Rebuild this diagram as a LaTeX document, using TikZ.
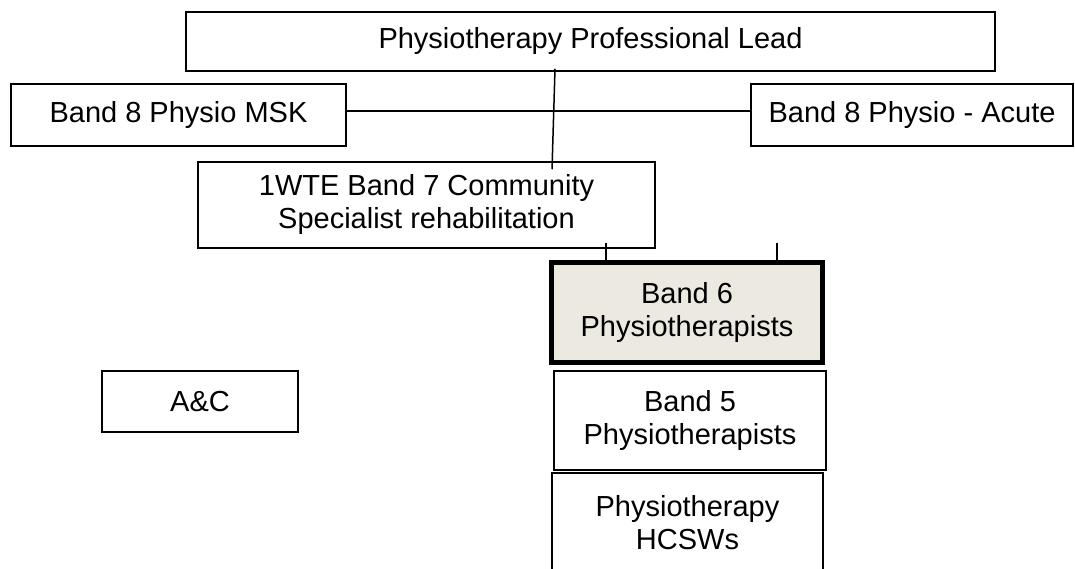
\documentclass[tikz,border=0pt]{standalone}
\usepackage{fontspec}
\setmainfont{Liberation Sans}
\definecolor{bandsix}{RGB}{236,233,224}
\begin{document}
\begin{tikzpicture}[x=1pt, y=-1pt,
    post/.style={draw, line width=1.5pt, inner sep=0pt, align=center,
      font=\fontsize{29}{33}\selectfont},
    link/.style={line width=1.5pt}]
    \useasboundingbox (0,0) rectangle (1075,569);
    \clip (0,0) rectangle (1075,569);
    \node [post, minimum width=809pt, minimum height=59pt] (lead) at (590.5,41.5) {Physiotherapy Professional Lead};
    \node [post, minimum width=335pt, minimum height=62pt] (msk) at (178.5,115) {Band 8 Physio MSK};
    \node [post, minimum width=322pt, minimum height=62pt] (acute) at (912,115) {Band 8 Physio - Acute};
    \node [post, minimum width=457pt, minimum height=86pt] (bandseven) at (426.5,205) {1WTE Band 7 Community\\Specialist rehabilitation};
    \node [post, line width=5pt, fill=bandsix, minimum width=271pt, minimum height=100pt] (bandsix) at (687,312.5) {Band 6\\Physiotherapists};
    \node [post, minimum width=196pt, minimum height=61pt] (ac) at (200,401.5) {A\&C};
    \node [post, minimum width=272pt, minimum height=99pt] (bandfive) at (690,420.5) {Band 5\\Physiotherapists};
    \node [post, minimum width=271pt, minimum height=99pt] (hcsw) at (687.5,522.5) {Physiotherapy\\HCSWs};
    \coordinate (tickA) at (606,243);
    \coordinate (tickB) at (777,243);
    \draw [link] ([yshift=4pt]msk.east) -- ([yshift=4pt]acute.west);
    \draw [link] ([xshift=-35.5pt, yshift=3pt]lead.south) -- ([xshift=125.5pt, yshift=-8pt]bandseven.north);
    \draw [link] (tickA) -- (tickA |- bandsix.north);
    \draw [link] (tickB) -- (tickB |- bandsix.north);
\end{tikzpicture}
\end{document}
